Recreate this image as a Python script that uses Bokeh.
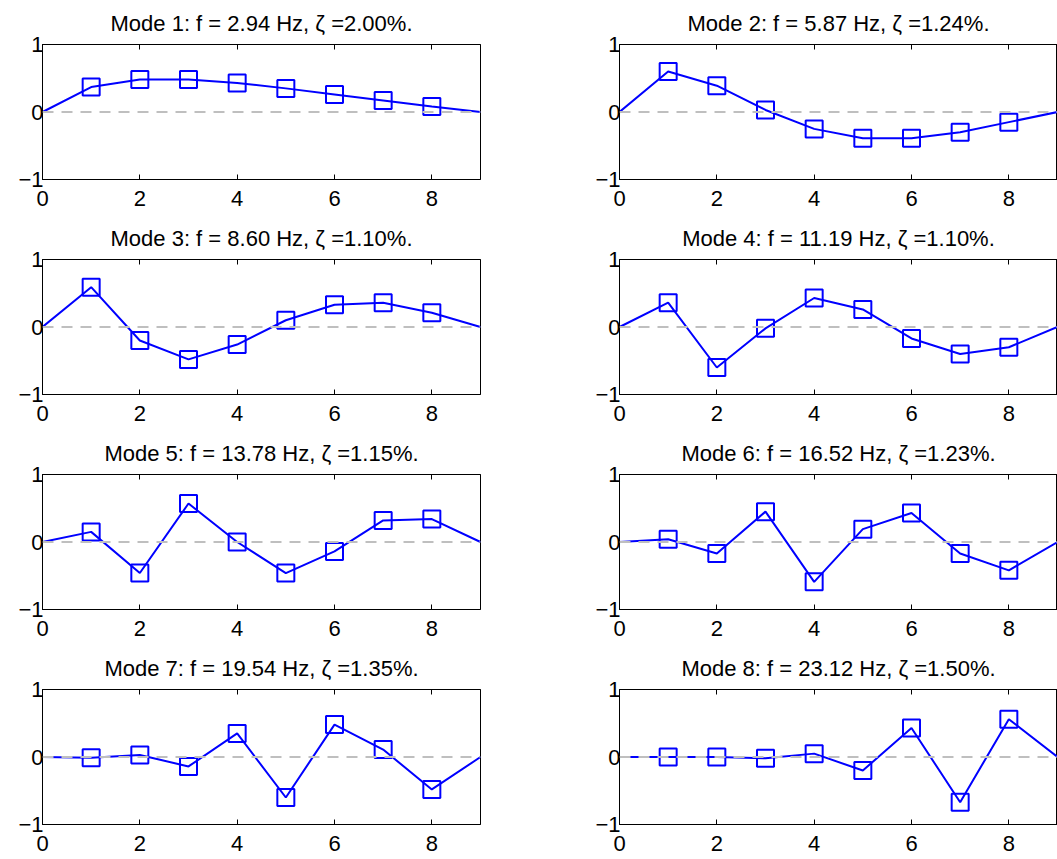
from bokeh.plotting import figure
from bokeh.models import Range1d, FixedTicker, LinearAxis, Span, ColumnDataSource
from bokeh.layouts import column, row
from bokeh.embed import file_html
from bokeh.resources import INLINE

# ---- data ----
nodes = [1, 2, 3, 4, 5, 6, 7, 8]
support_nodes = [0, 9]
support_values = [0.0, 0.0]

mode1 = [0.37, 0.48, 0.48, 0.43, 0.35, 0.26, 0.17, 0.08]
mode2 = [0.60, 0.39, 0.03, -0.25, -0.39, -0.39, -0.30, -0.15]
mode3 = [0.59, -0.20, -0.48, -0.26, 0.10, 0.33, 0.36, 0.21]
mode4 = [0.36, -0.60, -0.02, 0.43, 0.26, -0.17, -0.40, -0.30]
mode5 = [0.15, -0.46, 0.57, 0.00, -0.46, -0.14, 0.32, 0.34]
mode6 = [0.04, -0.17, 0.45, -0.59, 0.19, 0.43, -0.17, -0.42]
mode7 = [-0.01, 0.03, -0.14, 0.35, -0.60, 0.48, 0.11, -0.48]
mode8 = [0.00, 0.00, -0.02, 0.05, -0.20, 0.43, -0.67, 0.56]

freqs = [2.94, 5.87, 8.60, 11.19, 13.78, 16.52, 19.54, 23.12]
dampings = [2.00, 1.24, 1.10, 1.10, 1.15, 1.23, 1.35, 1.50]

x_ticks = [0, 2, 4, 6, 8]
y_ticks = [-1, 0, 1]
y_tick_labels = ["\u22121", "0", "1"]

modes = [mode1, mode2, mode3, mode4, mode5, mode6, mode7, mode8]

FONT = "Liberation Sans"
BLUE = "#0000ff"
FRAME_H = 135


def make_plot(k, vals, left, frame_w, right, top, bottom):
    p = figure(width=left + frame_w + right, height=top + FRAME_H + bottom,
               x_range=Range1d(0, 9), y_range=Range1d(-1, 1),
               output_backend="svg", toolbar_location=None,
               min_border_left=left, min_border_right=right,
               min_border_top=top, min_border_bottom=bottom)
    p.title.text = f"Mode {k}: f = {freqs[k-1]:.2f} Hz, \u03b6 ={dampings[k-1]:.2f}%."
    p.title.align = "center"
    p.title.text_font = FONT
    p.title.text_font_size = "22px"
    p.title.text_font_style = "normal"
    p.title.text_color = "black"
    p.title.standoff = 17
    p.grid.visible = False
    p.outline_line_color = "black"
    p.outline_line_width = 1
    p.outline_line_alpha = 1.0
    p.background_fill_color = "white"
    p.border_fill_color = "white"

    xa = p.xaxis[0]
    xa.ticker = FixedTicker(ticks=x_ticks)
    ya = p.yaxis[0]
    ya.ticker = FixedTicker(ticks=y_ticks)
    ya.major_label_overrides = {t: s for t, s in zip(y_ticks, y_tick_labels)}
    for ax in (xa, ya):
        ax.major_tick_in = 5
        ax.major_tick_out = 0
        ax.minor_tick_line_color = None
        ax.axis_line_color = "black"
        ax.major_tick_line_color = "black"
        ax.major_label_text_font = FONT
        ax.major_label_text_font_size = "22px"
        ax.major_label_text_color = "black"
    xa.major_label_standoff = 11
    ya.major_label_standoff = -1

    top_axis = LinearAxis(ticker=FixedTicker(ticks=x_ticks),
                          major_label_overrides={t: "" for t in x_ticks},
                          major_label_text_font_size="1px",
                          major_label_text_alpha=0,
                          major_label_standoff=0,
                          major_tick_in=5, major_tick_out=0,
                          minor_tick_line_color=None,
                          axis_line_color="black",
                          major_tick_line_color="black")
    p.add_layout(top_axis, "above")

    line_x = [support_nodes[0]] + nodes + [support_nodes[1]]
    line_y = [support_values[0]] + vals + [support_values[1]]
    p.line(line_x, line_y, line_color=BLUE, line_width=2)
    src = ColumnDataSource(dict(x=nodes, y=vals))
    p.scatter("x", "y", source=src, marker="square", size=17,
              fill_color=None, line_color=BLUE, line_width=2)
    p.add_layout(Span(location=0, dimension="width", line_color="#bfbfbf",
                      line_width=2, line_dash="11 8"))
    return p


tops = [44, 44, 44, 44]
bottoms = [36, 36, 36, 35]
rows = []
for r in range(4):
    pl = make_plot(2 * r + 1, modes[2 * r], 42, 438, 60, tops[r], bottoms[r])
    pr = make_plot(2 * r + 2, modes[2 * r + 1], 79, 438, 0, tops[r], bottoms[r])
    rows.append(row(pl, pr))

layout = column(*rows)
open("out.html", "w").write(file_html(layout, INLINE))
